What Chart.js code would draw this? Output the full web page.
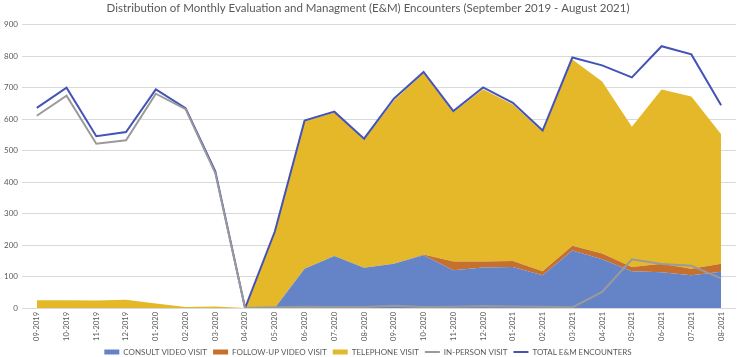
<!DOCTYPE html>
<html>
<head>
<meta charset="utf-8">
<script src="https://cdn.jsdelivr.net/npm/chart.js@4/dist/chart.umd.min.js"></script>
<style>
html,body{margin:0;padding:0;background:#fff;}
#wrap{width:738px;height:357px;position:relative;}
</style>
</head>
<body>
<div id="wrap"><canvas id="c" width="738" height="357"></canvas></div>
<script>
const months = ["09-2019","10-2019","11-2019","12-2019","01-2020","02-2020","03-2020","04-2020","05-2020","06-2020","07-2020","08-2020","09-2020","10-2020","11-2020","12-2020","01-2021","02-2021","03-2021","04-2021","05-2021","06-2021","07-2021","08-2021"];
const consultVideo = [0,0,0,0,0,0,0,0,0,125,165,128,141,168,120,129,130,104,183,155,117,114,104,115];
const followUpVideo = [0,0,0,0,0,0,0,0,0,0,0,0,0,2,28,19,19,13,15,18,13,27,21,26];
const telephone = [25,25,24,26,14,3,5,0,241,468,456,407,518,577,474,547,498,443,592,547,446,553,547,411];
const inPerson = [611,675,522,533,681,632,429,0,2,4,3,3,7,3,4,6,5,4,2,51,155,140,134,94];
const totalEM = [636,700,546,559,695,635,434,0,243,596,624,538,665,750,626,701,652,564,796,771,733,832,806,644];
const yTicks = [0,100,200,300,400,500,600,700,800,900];
const titleText = "Distribution of Monthly Evaluation and Managment (E&M) Encounters (September 2019 - August 2021)";

const FONT = "Lato, 'Open Sans', sans-serif";

new Chart(document.getElementById('c'), {
  type: 'line',
  data: {
    labels: months,
    datasets: [
      {label:'CONSULT VIDEO VISIT', data: consultVideo, stack:'visits', fill:'origin', backgroundColor:'#6584C7', borderColor:'#6584C7', borderWidth:0, pointRadius:0, pointStyle:'rect', tension:0},
      {label:'FOLLOW-UP VIDEO VISIT', data: followUpVideo, stack:'visits', fill:'-1', backgroundColor:'#C6702E', borderColor:'#C6702E', borderWidth:0, pointRadius:0, pointStyle:'rect', tension:0},
      {label:'TELEPHONE VISIT', data: telephone, stack:'visits', fill:'-1', backgroundColor:'#E4B829', borderColor:'#E4B829', borderWidth:0, pointRadius:0, pointStyle:'rect', tension:0},
      {label:'IN-PERSON VISIT', data: inPerson, stack:'inperson', fill:false, backgroundColor:'#9A9A9A', borderColor:'#9A9A9A', borderWidth:2, pointRadius:0, pointStyle:'line', tension:0},
      {label:'TOTAL E&M ENCOUNTERS', data: totalEM, stack:'total', fill:false, backgroundColor:'#4353B8', borderColor:'#4353B8', borderWidth:2, pointRadius:0, pointStyle:'line', tension:0}
    ]
  },
  options: {
    responsive:false,
    animation:false,
    layout:{padding:{left:0,right:2,top:0,bottom:-9}},
    plugins:{
      filler:{drawTime:'beforeDatasetsDraw'},
      tooltip:{enabled:false},
      title:{display:true,text:titleText,color:'#595959',font:{family:FONT,size:11.5,weight:'normal'},padding:{top:1,bottom:10}},
      legend:{position:'bottom',labels:{usePointStyle:true,pointStyleWidth:15,boxHeight:5,color:'#595959',font:{family:FONT,size:8},padding:6}}
    },
    scales:{
      x:{offset:true,grid:{display:false,drawTicks:false},border:{display:false},
         afterFit:(s)=>{s.height = 34;},
         ticks:{color:'#595959',font:{family:FONT,size:7.5},minRotation:90,maxRotation:90,autoSkip:false,padding:4}},
      y:{stacked:true,min:0,max:900,
         afterBuildTicks:(ax)=>{ax.ticks = yTicks.map(v=>({value:v}));},
         grid:{color:'#D9D9D9',drawTicks:false},border:{display:false},
         ticks:{color:'#595959',font:{family:FONT,size:8},padding:4}}
    }
  }
});
</script>
</body>
</html>
